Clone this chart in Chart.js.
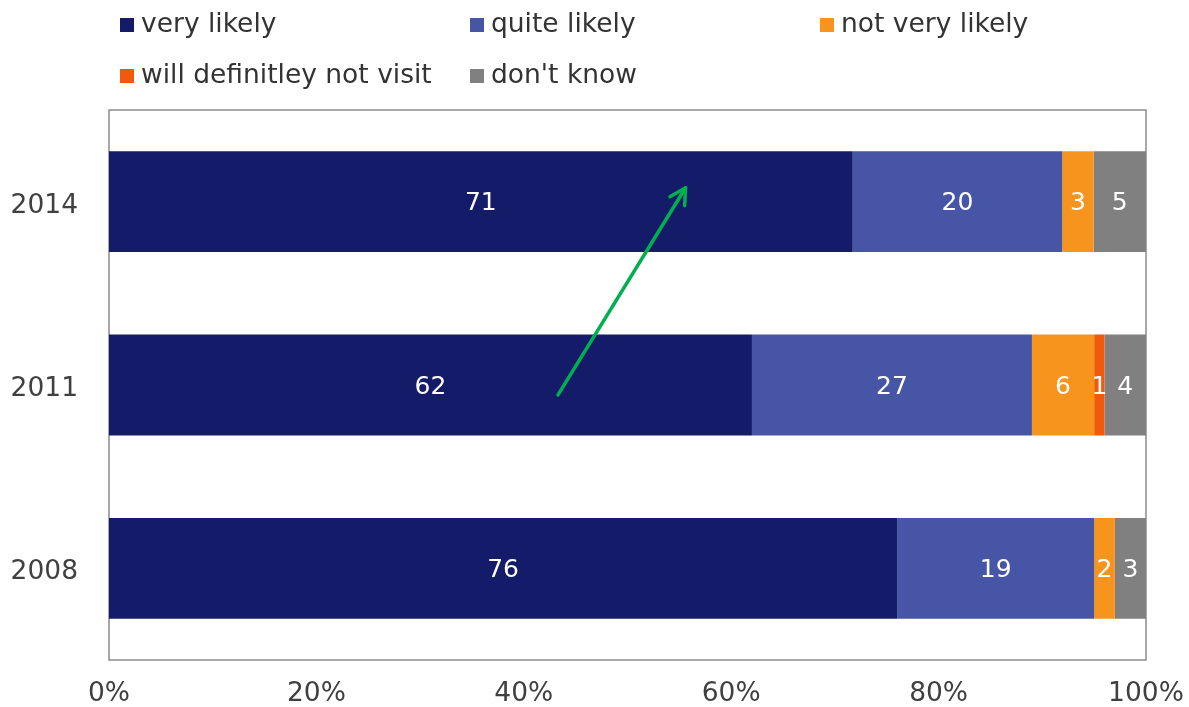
<!DOCTYPE html>
<html>
<head>
<meta charset="utf-8">
<script src="https://cdn.jsdelivr.net/npm/chart.js@4/dist/chart.umd.min.js"></script>
<style>
  body { margin: 0; background: #fff; }
  #wrap { width: 1189px; height: 707px; }
</style>
</head>
<body>
<div id="wrap"><canvas id="grafico"></canvas></div>
<script>
// datos
const years = ['2014', '2011', '2008'];
const veryLikely = [71, 62, 76];
const quiteLikely = [20, 27, 19];
const notVeryLikely = [3, 6, 2];
const notVisit = [0, 1, 0];
const dontKnow = [5, 4, 3];
const xTicks = [0, 20, 40, 60, 80, 100];

const seriesNames = ['very likely', 'quite likely', 'not very likely', 'will definitley not visit', "don't know"];
const seriesValues = [veryLikely, quiteLikely, notVeryLikely, notVisit, dontKnow];
const colores = ['#141b69', '#4655a5', '#f7941e', '#f15a0a', '#808080'];

// totales por año (2014 suma 99, se normaliza a 100%)
const totals = years.map((y, i) => seriesValues.reduce((s, arr) => s + arr[i], 0));

const FONT = 'DejaVu Sans, Verdana, sans-serif';

// flecha verde (en unidades de datos: % y indice de categoria)
const arrow = { from: { x: 43.3, y: 1.054 }, to: { x: 55.6, y: -0.076 } };

const datasets = seriesNames.map((name, k) => ({
    label: name,
    raw: seriesValues[k],
    data: seriesValues[k].map((v, i) => v / totals[i] * 100),
    backgroundColor: colores[k],
    borderWidth: 0,
    barPercentage: 0.55,
    categoryPercentage: 1
}));

// etiquetas dentro de las barras
const etiquetas = {
    id: 'etiquetas',
    afterDatasetsDraw(chart) {
        const ctx = chart.ctx;
        ctx.save();
        ctx.fillStyle = '#ffffff';
        ctx.font = '25px ' + FONT;
        ctx.textAlign = 'center';
        ctx.textBaseline = 'middle';
        chart.data.datasets.forEach((ds, k) => {
            chart.getDatasetMeta(k).data.forEach((bar, i) => {
                const v = ds.raw[i];
                if (!v) return;
                const cx = (bar.x + bar.base) / 2;
                ctx.fillText(String(v), cx, bar.y + 2);
            });
        });
        ctx.restore();
    }
};

// marco del area de grafico
const marco = {
    id: 'marco',
    beforeDatasetsDraw(chart) {
        const a = chart.chartArea;
        const ctx = chart.ctx;
        ctx.save();
        ctx.strokeStyle = '#8c8c8c';
        ctx.lineWidth = 1.5;
        ctx.strokeRect(a.left, a.top, a.right - a.left, a.bottom - a.top);
        ctx.restore();
    }
};

// flecha
const flecha = {
    id: 'flecha',
    afterDraw(chart) {
        const xs = chart.scales.x, ys = chart.scales.y;
        const x1 = xs.getPixelForValue(arrow.from.x), y1 = ys.getPixelForValue(arrow.from.y);
        const x2 = xs.getPixelForValue(arrow.to.x), y2 = ys.getPixelForValue(arrow.to.y);
        const ang = Math.atan2(y2 - y1, x2 - x1);
        const ctx = chart.ctx;
        ctx.save();
        ctx.strokeStyle = '#00b050';
        ctx.lineWidth = 3.5;
        ctx.lineCap = 'round';
        ctx.lineJoin = 'round';
        ctx.beginPath();
        ctx.moveTo(x1, y1);
        ctx.lineTo(x2, y2);
        ctx.stroke();
        const h = 18;
        ctx.beginPath();
        ctx.moveTo(x2 - h * Math.cos(ang - 0.5), y2 - h * Math.sin(ang - 0.5));
        ctx.lineTo(x2, y2);
        ctx.lineTo(x2 - h * Math.cos(ang + 0.5), y2 - h * Math.sin(ang + 0.5));
        ctx.stroke();
        ctx.restore();
    }
};

// leyenda en columnas
const leyenda = {
    id: 'leyenda',
    afterDraw(chart) {
        const ctx = chart.ctx;
        const cols = [120, 470, 820];
        const rows = [25, 76];
        ctx.save();
        ctx.font = '26.5px ' + FONT;
        ctx.textBaseline = 'middle';
        ctx.textAlign = 'left';
        chart.data.datasets.forEach((ds, k) => {
            const x = cols[k % 3], y = rows[Math.floor(k / 3)];
            ctx.fillStyle = ds.backgroundColor;
            ctx.fillRect(x, y - 7, 14, 14);
            ctx.fillStyle = '#333333';
            ctx.fillText(ds.label, x + 21, y);
        });
        ctx.restore();
    }
};

new Chart(document.getElementById('grafico'), {
    type: 'bar',
    data: { labels: years, datasets: datasets },
    plugins: [marco, etiquetas, flecha, leyenda],
    options: {
        indexAxis: 'y',
        responsive: true,
        maintainAspectRatio: false,
        animation: false,
        layout: { padding: { top: 110, right: 43, left: 0, bottom: 0 } },
        plugins: { legend: { display: false }, tooltip: { enabled: false } },
        scales: {
            x: {
                stacked: true,
                min: 0,
                max: 100,
                afterBuildTicks(scale) { scale.ticks = xTicks.map(v => ({ value: v })); },
                afterFit(scale) { scale.height = 47; scale.paddingLeft = 0; scale.paddingRight = 0; },
                grid: { display: false, drawTicks: false },
                border: { display: false },
                ticks: {
                    padding: 18,
                    color: '#404040',
                    font: { family: FONT, size: 26.5 },
                    callback: v => v + '%'
                }
            },
            y: {
                stacked: true,
                afterFit(scale) { scale.width = 109; scale.paddingTop = 0; scale.paddingBottom = 0; },
                grid: { display: false, drawTicks: false },
                border: { display: false },
                ticks: {
                    padding: 31,
                    labelOffset: 4,
                    color: '#404040',
                    font: { family: FONT, size: 26.5 }
                }
            }
        }
    }
});
</script>
</body>
</html>
